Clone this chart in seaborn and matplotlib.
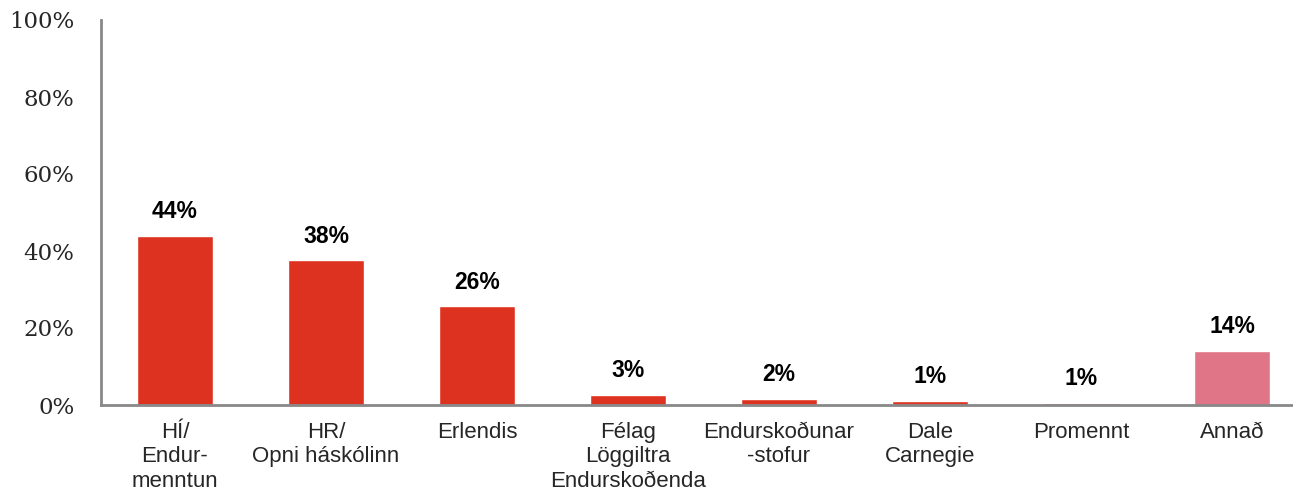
import pandas as pd
import matplotlib.pyplot as plt
import seaborn as sns

flokkar = ['HÍ/\nEndur-\nmenntun', 'HR/\nOpni háskólinn', 'Erlendis',
           'Félag\nLöggiltra\nEndurskoðenda', 'Endurskoðunar\n-stofur',
           'Dale\nCarnegie', 'Promennt', 'Annað']
merki = ['44%', '38%', '26%', '3%', '2%', '1%', '1%', '14%']
litir = ['#DE3220'] * 7 + ['#E07587']

y_ticks = [0, 20, 40, 60, 80, 100]
y_merki = ['0%', '20%', '40%', '60%', '80%', '100%']

# hæð súlna lesin af mynd
hæð = [43.9, 37.6, 25.6, 2.7, 1.6, 1.1, 0.6, 14.1]

df = pd.DataFrame({'flokkur': flokkar, 'hlutfall': hæð})

sns.set_style('white')
fig = plt.figure(figsize=(12.93, 4.97), dpi=100)
ax = fig.add_axes([101 / 1293, (497 - 405) / 497, (1293 - 101) / 1293, (405 - 20) / 497])

sns.barplot(data=df, x='flokkur', y='hlutfall', hue='flokkur', palette=litir,
            legend=False, width=0.5, saturation=1, ax=ax)

for i, (h, m) in enumerate(zip(hæð, merki)):
    ax.text(i, h + 3.3, m, ha='center', va='bottom', fontsize=16.5,
            fontweight='bold', family='Liberation Sans', color='black')

ax.set_ylim(0, 100)
ax.set_xlim(-0.49, 7.404)
ax.set_yticks(y_ticks)
ax.set_yticklabels(y_merki, family='DejaVu Serif', fontsize=16.5)
ax.set_xticks(range(len(flokkar)))
ax.set_xticklabels(flokkar, family='Liberation Sans', fontsize=16, linespacing=1.22)
ax.tick_params(axis='y', length=0, pad=19)
ax.tick_params(axis='x', length=0, pad=12)
ax.set_xlabel('')
ax.set_ylabel('')

for s in ['top', 'right']:
    ax.spines[s].set_visible(False)
for s in ['left', 'bottom']:
    ax.spines[s].set_color('#888888')
    ax.spines[s].set_linewidth(2)

fig.savefig('out.png', dpi=100)
